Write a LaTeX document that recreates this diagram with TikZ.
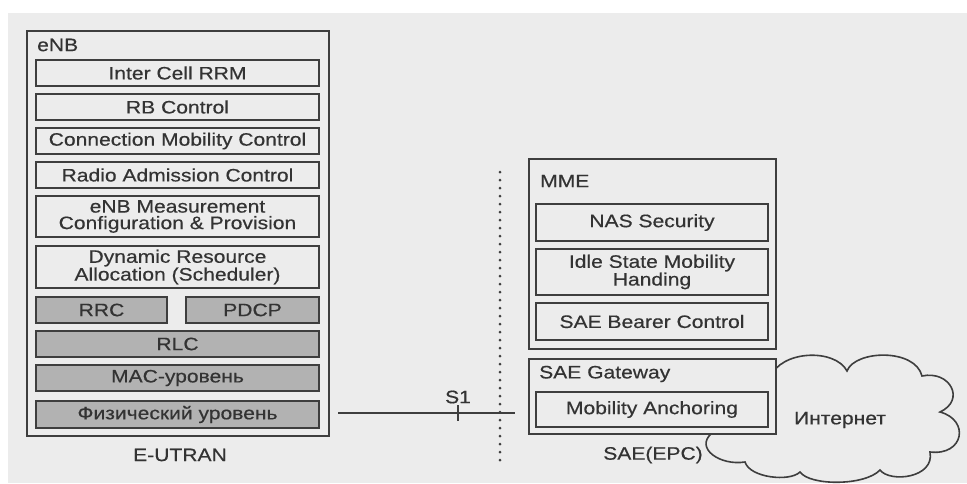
\documentclass[tikz,border=0pt]{standalone}
\usepackage{fontspec}
\setmainfont{Liberation Sans}[FakeStretch=1.17, FakeBold=0.45]
\definecolor{pagebg}{HTML}{ECECEC}
\definecolor{ink}{HTML}{3E3E3E}
\definecolor{txt}{HTML}{333333}
\definecolor{layer}{HTML}{B2B2B2}
\begin{document}
\begin{tikzpicture}[x=1pt,y=-1pt,
  every node/.style={text=txt, font=\fontsize{18}{16.5}\selectfont},
  frame/.style={draw=ink, line width=1.8pt, fill=pagebg, inner sep=0pt},
  func/.style={draw=ink, line width=1.8pt, fill=pagebg, inner sep=0pt, align=center},
  graybox/.style={func, fill=layer},
  caption/.style={inner sep=0pt},
  link/.style={draw=ink, line width=1.5pt},
  border/.style={draw=ink, line width=3pt, line cap=round, dash pattern=on 0pt off 8pt}
]
\useasboundingbox (0,0) rectangle (967,483);
\fill[white] (0,0) rectangle (967,483);
\fill[pagebg] (8,13) rectangle (967,483);

% ---------- eNB ----------
\node[frame, minimum width=302pt, minimum height=405pt] (enb) at (178,233.5) {};
\node[caption, anchor=west] (enblbl) at (37,45) {eNB};
\node[func, minimum width=283pt, minimum height=26pt] (icrrm) at (177.5,73) {Inter Cell RRM};
\node[func, minimum width=283pt, minimum height=26pt] (rbc) at (177.5,107) {RB Control};
\node[func, minimum width=283pt, minimum height=26pt] (cmc) at (177.5,141) {Connection Mobility Control};
\node[func, minimum width=283pt, minimum height=26pt] (rac) at (177.5,175) {Radio Admission Control};
\node[func, minimum width=283pt, minimum height=41pt] (meas) at (177.5,216.5) {eNB Measurement\\Configuration \& Provision};
\node[func, minimum width=283pt, minimum height=42pt] (dra) at (177.5,267) {Dynamic Resource\\Allocation (Scheduler)};
\node[graybox, minimum width=131pt, minimum height=26pt] (rrc) at (101.5,310) {RRC};
\node[graybox, minimum width=133pt, minimum height=26pt] (pdcp) at (252.5,310) {PDCP};
\node[graybox, minimum width=283pt, minimum height=26pt] (rlc) at (177.5,344) {RLC};
\node[graybox, minimum width=283pt, minimum height=26pt] (mac) at (177.5,378) {MAC-уровень};
\node[graybox, minimum width=283pt, minimum height=27pt] (phy) at (177.5,414.5) {Физический уровень};
\node[caption] (eutran) at (180,455) {E-UTRAN};

% ---------- S1 interface ----------
\coordinate (dtop) at (500,172);
\coordinate (dbot) at (500,460);
\draw[border] (dtop) -- (dbot);
\coordinate (s1a) at (338,413);
\coordinate (s1b) at (515,413);
\coordinate (ticka) at (458,405);
\coordinate (tickb) at (458,421);
\draw[link] (s1a) -- (s1b);
\draw[link] (ticka) -- (tickb);
\node[caption] (s1) at (458,397) {S1};

% ---------- Internet cloud (behind the gateway) ----------
\draw[ink, line width=1.6pt] (770,378)
  .. controls (780,350) and (835,348) .. (847,371)
  .. controls (855,350) and (915,348) .. (922,376)
  .. controls (950,370) and (966,400) .. (940,412)
  .. controls (970,420) and (964,456) .. (930,452)
  .. controls (935,478) and (890,483) .. (880,470)
  .. controls (865,486) and (810,486) .. (800,472)
  .. controls (790,482) and (750,478) .. (745,462)
  .. controls (720,466) and (694,448) .. (712,433)
  -- (760,420) -- cycle;
\node[caption] (inet) at (840,420) {Интернет};

% ---------- MME ----------
\node[frame, minimum width=247pt, minimum height=190pt] (mme) at (652.5,254) {};
\node[caption, anchor=west] (mmelbl) at (540,181) {MME};
\node[func, minimum width=232pt, minimum height=37pt] (nas) at (652,222.5) {NAS Security};
\node[func, minimum width=232pt, minimum height=46pt] (idle) at (652,272) {Idle State Mobility\\Handing};
\node[func, minimum width=232pt, minimum height=37pt] (bearer) at (652,321.5) {SAE Bearer Control};

% ---------- SAE Gateway ----------
\node[frame, minimum width=247pt, minimum height=75pt] (gw) at (652.5,396.5) {};
\node[caption, anchor=west] (gwlbl) at (539,374) {SAE Gateway};
\node[func, minimum width=232pt, minimum height=35pt] (anchor) at (652,409.5) {Mobility Anchoring};
\node[caption] (epc) at (653,455) {SAE(EPC)};
\end{tikzpicture}
\end{document}
